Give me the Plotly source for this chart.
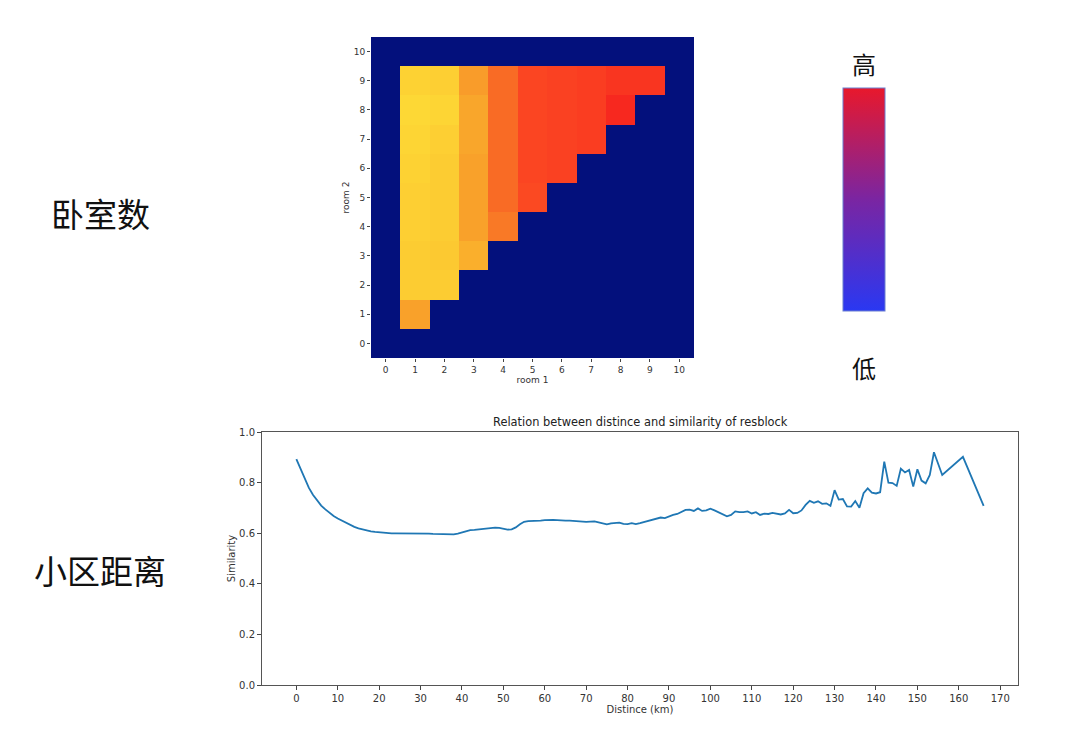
import plotly.graph_objects as go

# ---------------- data ----------------
rooms = list(range(11))
# bedroom similarity matrix: rows = room 2 (0..10), cols = room 1 (0..10); 0 = no data
bedroom_sim = [
    [0, 0.00, 0.00, 0.00, 0.00, 0.00, 0.00, 0.00, 0.00, 0.00, 0],
    [0, 0.70, 0.00, 0.00, 0.00, 0.00, 0.00, 0.00, 0.00, 0.00, 0],
    [0, 0.60, 0.60, 0.00, 0.00, 0.00, 0.00, 0.00, 0.00, 0.00, 0],
    [0, 0.60, 0.61, 0.67, 0.00, 0.00, 0.00, 0.00, 0.00, 0.00, 0],
    [0, 0.59, 0.60, 0.70, 0.78, 0.00, 0.00, 0.00, 0.00, 0.00, 0],
    [0, 0.59, 0.60, 0.70, 0.81, 0.89, 0.00, 0.00, 0.00, 0.00, 0],
    [0, 0.58, 0.60, 0.70, 0.81, 0.90, 0.91, 0.00, 0.00, 0.00, 0],
    [0, 0.57, 0.59, 0.69, 0.81, 0.90, 0.91, 0.92, 0.00, 0.00, 0],
    [0, 0.56, 0.57, 0.69, 0.81, 0.90, 0.91, 0.92, 0.97, 0.00, 0],
    [0, 0.58, 0.59, 0.71, 0.81, 0.90, 0.91, 0.92, 0.94, 0.94, 0],
    [0, 0.00, 0.00, 0.00, 0.00, 0.00, 0.00, 0.00, 0.00, 0.00, 0],
]

distance_km = list(range(0, 155)) + [156, 161, 166]
similarity = [
    0.893, 0.855, 0.815, 0.780, 0.752, 0.728, 0.709, 0.694, 0.680, 0.668,
    0.658, 0.649, 0.640, 0.632, 0.625, 0.619, 0.614, 0.610, 0.607, 0.605,
    0.603, 0.601, 0.600, 0.599, 0.599, 0.599, 0.599, 0.600, 0.599, 0.598,
    0.598, 0.598, 0.598, 0.597, 0.597, 0.597, 0.596, 0.595, 0.595, 0.598,
    0.603, 0.608, 0.612, 0.613, 0.615, 0.617, 0.620, 0.622, 0.622, 0.621,
    0.617, 0.614, 0.615, 0.623, 0.635, 0.645, 0.648, 0.648, 0.648, 0.650,
    0.652, 0.654, 0.653, 0.652, 0.650, 0.650, 0.650, 0.649, 0.647, 0.645,
    0.645, 0.646, 0.647, 0.643, 0.638, 0.635, 0.639, 0.641, 0.642, 0.637,
    0.636, 0.640, 0.636, 0.640, 0.645, 0.650, 0.653, 0.660, 0.662, 0.660,
    0.667, 0.672, 0.676, 0.685, 0.692, 0.693, 0.688, 0.698, 0.688, 0.690,
    0.697, 0.690, 0.682, 0.676, 0.667, 0.672, 0.686, 0.683, 0.683, 0.686,
    0.678, 0.683, 0.672, 0.677, 0.676, 0.680, 0.677, 0.674, 0.678, 0.692,
    0.679, 0.680, 0.690, 0.712, 0.728, 0.720, 0.726, 0.716, 0.718, 0.708,
    0.770, 0.733, 0.735, 0.706, 0.705, 0.727, 0.701, 0.758, 0.777, 0.760,
    0.757, 0.762, 0.883, 0.800, 0.798, 0.787, 0.855, 0.840, 0.850, 0.784,
    0.853, 0.808, 0.797, 0.830, 0.920, 0.830, 0.902, 0.708,
]
dist_ticks = list(range(0, 171, 10))
sim_ticks = [0.0, 0.2, 0.4, 0.6, 0.8, 1.0]
legend_range = [0, 1]

# ---------------- styling ----------------
W, H = 1080, 736
def px(x):
    return x / W
def py(y):
    return 1 - y / H

FONT = "DejaVu Sans"
CJK = "Noto Sans CJK SC"
navy = "#03107C"
heat_scale = [
    [0.0, navy], [0.5, navy], [0.5, "#FFE23A"], [0.56, "#FDD835"],
    [0.62, "#FCC630"], [0.70, "#F9A12A"], [0.80, "#F96F25"],
    [0.90, "#FB4522"], [1.0, "#F51C1E"],
]
legend_scale = [[0.0, "#2A38F2"], [0.5, "#7A25A2"], [1.0, "#E8182C"]]

fig = go.Figure()

fig.add_trace(go.Heatmap(
    z=bedroom_sim, x=rooms, y=rooms, zmin=0, zmax=1,
    colorscale=heat_scale, showscale=False, xaxis="x", yaxis="y",
))

# legend bar (high / low)
fig.add_trace(go.Scatter(
    x=[0, 0], y=[0, 0], mode="markers", xaxis="x", yaxis="y",
    marker=dict(size=0.1, opacity=0, color=legend_range, colorscale=legend_scale,
                cmin=0, cmax=1, showscale=True,
                colorbar=dict(
                    x=px(843), xanchor="left", xref="paper",
                    y=py(199.5), yanchor="middle", yref="paper",
                    lenmode="pixels", len=223,
                    thicknessmode="pixels", thickness=42,
                    showticklabels=False, ticks="",
                    outlinewidth=1, outlinecolor="#6a7fd0", xpad=0, ypad=0,
                )),
    hoverinfo="skip", showlegend=False,
))

fig.add_trace(go.Scatter(
    x=distance_km, y=similarity, mode="lines",
    line=dict(color="#1f77b4", width=1.8),
    xaxis="x2", yaxis="y2", showlegend=False,
))

tickfont = dict(family=FONT, size=9, color="#333")
fig.update_layout(
    width=W, height=H, margin=dict(l=0, r=0, t=0, b=0, autoexpand=False),
    paper_bgcolor="white", plot_bgcolor="white", showlegend=False,
    xaxis=dict(domain=[px(371), px(694)], range=[-0.5, 10.5], tickvals=rooms,
               ticks="outside", ticklen=3, tickcolor="#444", showgrid=False,
               zeroline=False, showline=False, tickfont=tickfont, automargin=False,
               title=dict(text="room 1", font=dict(family=FONT, size=9, color="#333"), standoff=2),
               anchor="y"),
    yaxis=dict(domain=[py(358), py(37)], range=[-0.5, 10.5], tickvals=rooms,
               ticks="outside", ticklen=3, tickcolor="#444", showgrid=False,
               zeroline=False, showline=False, tickfont=tickfont, automargin=False,
               title=dict(text="room 2", font=dict(family=FONT, size=9, color="#333"), standoff=2),
               anchor="x"),
    xaxis2=dict(domain=[px(262), px(1018)], range=[-8.3, 174.3], tickvals=dist_ticks,
                ticks="outside", ticklen=4, tickcolor="#444", showgrid=False,
                zeroline=False, showline=True, linecolor="#555", linewidth=1, mirror=True,
                tickfont=dict(family=FONT, size=10, color="#333"), automargin=False,
                title=dict(text="Distince (km)", font=dict(family=FONT, size=10, color="#333"), standoff=2),
                anchor="y2"),
    yaxis2=dict(domain=[py(685), py(432)], range=[0, 1], tickvals=sim_ticks, tickformat=".1f",
                ticks="outside", ticklen=4, tickcolor="#444", showgrid=False,
                zeroline=False, showline=True, linecolor="#555", linewidth=1, mirror=True,
                tickfont=dict(family=FONT, size=10, color="#333"), automargin=False,
                title=dict(text="Similarity", font=dict(family=FONT, size=10, color="#333"), standoff=1),
                anchor="x2"),
    annotations=[
        dict(text="Relation between distince and similarity of resblock", x=px(640), y=py(432),
             xref="paper", yref="paper", xanchor="center", yanchor="bottom", yshift=1,
             showarrow=False, font=dict(family=FONT, size=11.4, color="#222")),
        dict(text="卧室数", x=px(100), y=py(213), xref="paper", yref="paper",
             xanchor="center", yanchor="middle", showarrow=False,
             font=dict(family=CJK, size=33, color="#111")),
        dict(text="小区距离", x=px(100), y=py(570), xref="paper", yref="paper",
             xanchor="center", yanchor="middle", showarrow=False,
             font=dict(family=CJK, size=33, color="#111")),
        dict(text="高", x=px(864), y=py(63), xref="paper", yref="paper",
             xanchor="center", yanchor="middle", showarrow=False,
             font=dict(family=CJK, size=24, color="#111")),
        dict(text="低", x=px(864), y=py(367), xref="paper", yref="paper",
             xanchor="center", yanchor="middle", showarrow=False,
             font=dict(family=CJK, size=24, color="#111")),
    ],
)

fig.write_html("out.html")
